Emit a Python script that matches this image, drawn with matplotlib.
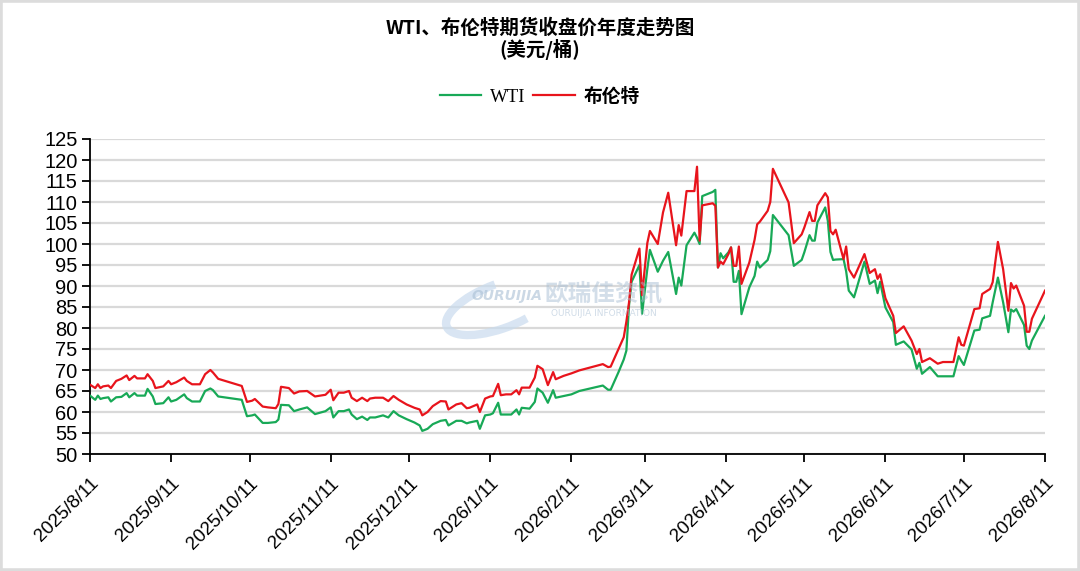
import numpy as np
import pandas as pd
import matplotlib
matplotlib.use("Agg")
import matplotlib.pyplot as plt
from matplotlib.patches import Rectangle, Arc

# trading dates and closing prices, USD/bbl
dates = [
    "2025-08-11", "2025-08-13", "2025-08-14", "2025-08-15", "2025-08-16", "2025-08-18", "2025-08-19",
    "2025-08-21", "2025-08-23", "2025-08-25", "2025-08-26", "2025-08-28", "2025-08-29", "2025-09-01",
    "2025-09-02", "2025-09-04", "2025-09-05", "2025-09-08", "2025-09-10", "2025-09-11", "2025-09-13",
    "2025-09-16", "2025-09-17", "2025-09-19", "2025-09-22", "2025-09-24", "2025-09-26", "2025-09-27",
    "2025-09-29", "2025-10-08", "2025-10-10", "2025-10-12", "2025-10-13", "2025-10-16", "2025-10-18",
    "2025-10-21", "2025-10-22", "2025-10-23", "2025-10-26", "2025-10-28", "2025-10-30", "2025-11-02",
    "2025-11-05", "2025-11-09", "2025-11-11", "2025-11-12", "2025-11-14", "2025-11-16", "2025-11-18",
    "2025-11-19", "2025-11-21", "2025-11-23", "2025-11-25", "2025-11-26", "2025-11-28", "2025-12-01",
    "2025-12-03", "2025-12-05", "2025-12-07", "2025-12-10", "2025-12-13", "2025-12-15", "2025-12-16",
    "2025-12-18", "2025-12-20", "2025-12-23", "2025-12-25", "2025-12-26", "2025-12-29", "2025-12-31",
    "2026-01-02", "2026-01-03", "2026-01-06", "2026-01-07", "2026-01-09", "2026-01-11", "2026-01-12",
    "2026-01-14", "2026-01-15", "2026-01-17", "2026-01-19", "2026-01-21", "2026-01-22", "2026-01-23",
    "2026-01-26", "2026-01-28", "2026-01-29", "2026-01-31", "2026-02-02", "2026-02-04", "2026-02-05",
    "2026-02-08", "2026-02-11", "2026-02-14", "2026-02-23", "2026-02-25", "2026-02-26", "2026-03-01",
    "2026-03-03", "2026-03-04", "2026-03-05", "2026-03-06", "2026-03-09", "2026-03-10", "2026-03-12",
    "2026-03-13", "2026-03-16", "2026-03-18", "2026-03-20", "2026-03-23", "2026-03-24", "2026-03-25",
    "2026-03-27", "2026-03-30", "2026-03-31", "2026-04-01", "2026-04-02", "2026-04-06", "2026-04-07",
    "2026-04-08", "2026-04-09", "2026-04-10", "2026-04-12", "2026-04-13", "2026-04-14", "2026-04-15",
    "2026-04-16", "2026-04-17", "2026-04-20", "2026-04-22", "2026-04-23", "2026-04-24", "2026-04-27",
    "2026-04-28", "2026-04-29", "2026-05-05", "2026-05-07", "2026-05-10", "2026-05-11", "2026-05-13",
    "2026-05-14", "2026-05-15", "2026-05-16", "2026-05-19", "2026-05-20", "2026-05-21", "2026-05-22",
    "2026-05-23", "2026-05-26", "2026-05-27", "2026-05-28", "2026-05-30", "2026-06-03", "2026-06-05",
    "2026-06-07", "2026-06-08", "2026-06-09", "2026-06-11", "2026-06-14", "2026-06-15", "2026-06-18",
    "2026-06-21", "2026-06-23", "2026-06-24", "2026-06-25", "2026-06-28", "2026-07-01", "2026-07-03",
    "2026-07-07", "2026-07-09", "2026-07-10", "2026-07-11", "2026-07-15", "2026-07-17", "2026-07-18",
    "2026-07-21", "2026-07-22", "2026-07-24", "2026-07-26", "2026-07-28", "2026-07-29", "2026-07-30",
    "2026-07-31", "2026-08-03", "2026-08-04", "2026-08-05", "2026-08-06", "2026-08-11",
]

brent = [
    66.5, 65.7, 66.6, 65.7, 66.1, 66.3, 65.7, 67.4, 67.9, 68.7, 67.6, 68.6, 68.0, 68.0,
    69.0, 67.4, 65.7, 66.1, 67.4, 66.6, 67.1, 68.2, 67.4, 66.6, 66.6, 69.0, 70.0, 69.4,
    67.9, 66.2, 62.4, 62.7, 63.1, 61.3, 61.1, 60.9, 61.9, 66.0, 65.7, 64.4, 64.9, 65.0,
    63.7, 64.1, 65.3, 62.8, 64.6, 64.6, 65.0, 63.4, 62.6, 63.4, 62.6, 63.2, 63.4, 63.4,
    62.6, 63.8, 62.9, 61.8, 61.0, 60.6, 59.2, 60.0, 61.4, 62.6, 62.5, 60.6, 61.8, 62.1,
    60.9, 61.0, 61.8, 60.0, 63.2, 63.7, 63.8, 66.7, 64.0, 64.2, 64.2, 65.2, 64.2, 65.8,
    65.8, 68.2, 71.0, 70.2, 66.4, 69.5, 67.8, 68.6, 69.2, 69.9, 71.4, 70.7, 70.8, 75.0,
    77.8, 81.5, 86.0, 92.7, 98.9, 87.8, 100.2, 103.1, 100.0, 107.5, 112.2, 99.7, 104.5, 102.0,
    112.6, 112.6, 118.4, 100.8, 109.2, 109.7, 109.1, 94.4, 95.8, 95.2, 97.6, 99.2, 94.8, 94.8,
    99.4, 90.5, 95.6, 101.0, 104.7, 105.3, 107.9, 110.0, 117.9, 109.9, 100.2, 102.3, 103.9, 107.6,
    105.5, 105.5, 109.2, 112.1, 111.1, 103.1, 102.3, 103.4, 96.4, 99.4, 94.0, 92.0, 97.6, 93.1,
    94.0, 91.7, 92.8, 87.1, 82.9, 78.8, 80.4, 77.0, 73.8, 75.0, 71.9, 72.8, 71.5, 71.9,
    71.9, 77.8, 76.0, 75.8, 84.5, 84.7, 88.1, 89.3, 90.9, 100.5, 94.0, 84.1, 90.7, 89.4,
    90.1, 85.3, 79.1, 79.1, 82.2, 88.9,
]

wti = [
    63.9, 62.9, 63.9, 63.1, 63.3, 63.5, 62.5, 63.5, 63.6, 64.5, 63.5, 64.5, 63.9, 63.9,
    65.5, 63.7, 61.9, 62.1, 63.5, 62.5, 62.9, 64.2, 63.3, 62.5, 62.5, 65.0, 65.6, 65.2,
    63.7, 62.9, 59.0, 59.2, 59.4, 57.4, 57.4, 57.6, 58.2, 61.7, 61.6, 60.2, 60.6, 61.1,
    59.5, 60.2, 61.1, 58.7, 60.2, 60.2, 60.6, 59.4, 58.3, 58.9, 58.1, 58.7, 58.7, 59.2,
    58.7, 60.2, 59.2, 58.3, 57.5, 56.8, 55.5, 56.0, 57.1, 57.9, 58.1, 56.8, 57.9, 57.9,
    57.3, 57.5, 57.9, 56.0, 59.2, 59.4, 59.7, 62.2, 59.4, 59.4, 59.4, 60.6, 59.4, 61.0,
    60.8, 62.4, 65.6, 64.6, 62.2, 65.2, 63.4, 63.8, 64.2, 65.0, 66.3, 65.3, 65.3, 69.5,
    72.5, 74.6, 85.3, 91.0, 95.0, 83.4, 94.0, 98.6, 93.4, 96.0, 98.1, 88.1, 92.0, 90.1,
    99.7, 102.7, 101.5, 100.0, 111.4, 112.4, 112.9, 94.4, 97.8, 96.6, 98.0, 99.2, 91.0, 91.0,
    93.6, 83.3, 89.7, 92.4, 95.8, 94.4, 96.2, 98.3, 106.9, 102.1, 94.8, 96.2, 98.0, 102.1,
    100.8, 100.8, 105.1, 108.7, 105.5, 98.1, 96.2, 96.3, 96.4, 93.5, 88.9, 87.3, 95.8, 90.5,
    91.3, 88.3, 91.0, 84.9, 81.4, 76.0, 76.8, 74.9, 70.3, 71.7, 69.1, 70.7, 68.5, 68.5,
    68.5, 73.3, 72.2, 71.2, 79.4, 79.6, 82.3, 82.9, 86.1, 92.0, 86.1, 79.0, 84.4, 83.9,
    84.5, 80.7, 75.8, 75.0, 77.0, 82.9,
]

title = "WTI、布伦特期货收盘价年度走势图\n(美元/桶)"
tick_dates = pd.date_range("2025-08-01", "2026-08-01", freq="MS") + pd.Timedelta(days=10)

cjk = ["Noto Sans CJK SC", "DejaVu Sans"]
num_font = ["Liberation Sans Narrow", "Liberation Sans", "DejaVu Sans"]

d = pd.to_datetime(dates)

fig = plt.figure(figsize=(10.8, 5.71), dpi=100)
fig.patch.set_facecolor("white")
ax = fig.add_axes([90 / 1080, 1 - 454 / 571, 955 / 1080, 315 / 571])

ax.plot(d, wti, color="#18a957", lw=1.6, label="WTI", zorder=3)
ax.plot(d, brent, color="#e8141c", lw=1.6, label="布伦特", zorder=4)

ax.set_xlim(pd.Timestamp("2025-08-11"), pd.Timestamp("2026-08-11"))
ax.set_ylim(50, 125)
ax.set_yticks(np.arange(50, 126, 5))
ax.set_xticks(tick_dates)
ax.set_xticklabels([f"{t.year}/{t.month}/{t.day}" for t in tick_dates])
ax.grid(axis="y", color="#d9d9d9", lw=1.6, zorder=0)
ax.set_axisbelow(True)

for s in ["top", "right"]:
    ax.spines[s].set_visible(False)
for s in ["left", "bottom"]:
    ax.spines[s].set_linewidth(1.3)
    ax.spines[s].set_color("black")
ax.tick_params(axis="both", direction="out", length=6, width=1.3, color="black")
ax.tick_params(axis="y", pad=3)
ax.tick_params(axis="x", pad=9)

for lab in ax.get_yticklabels():
    lab.set_fontfamily(num_font)
    lab.set_fontsize(14.5)
for lab in ax.get_xticklabels():
    lab.set_fontfamily(num_font)
    lab.set_fontsize(13.5)
    lab.set_rotation(45)
    lab.set_ha("right")
    lab.set_va("top")
    lab.set_rotation_mode("anchor")

# title and legend
fig.text(0.5, 1 - 39 / 571, title, ha="center", va="center", fontsize=14,
         fontweight="bold", family=cjk, linespacing=1.1)
leg = fig.legend(loc="center", bbox_to_anchor=(0.5, 1 - 96 / 571), ncol=2, frameon=False,
                 handlelength=2.2, handletextpad=0.5, columnspacing=0.4, fontsize=13.5)
leg.get_texts()[0].set_fontfamily(["Liberation Serif", "DejaVu Serif"])
leg.get_texts()[1].set_fontfamily(cjk)
leg.get_texts()[1].set_fontweight("bold")

# faint watermark
wm = "#a9bfd4"
ax.add_patch(Arc((0.43, 0.47), 0.085, 0.2, angle=-25, theta1=120, theta2=330,
                 transform=ax.transAxes, ec="#c9dbee", lw=6, alpha=0.7, zorder=1))
fig.text(507 / 1080, 1 - 296 / 571, "OURUIJIA", ha="center", va="center", color=wm,
         alpha=0.6, fontsize=10, fontweight="bold", style="italic", family="DejaVu Sans")
fig.text(604 / 1080, 1 - 293 / 571, "欧瑞佳资讯", ha="center", va="center", color=wm,
         alpha=0.5, fontsize=17, fontweight="bold", family=cjk)
fig.text(604 / 1080, 1 - 314 / 571, "OURUIJIA INFORMATION", ha="center", va="center",
         color=wm, alpha=0.55, fontsize=6.5, family="DejaVu Sans")

# light outer frame
fig.patches.append(Rectangle((0, 0), 1, 1, transform=fig.transFigure, fill=False,
                             ec="#dcdcdc", lw=4))

fig.savefig("out.png", dpi=100)
